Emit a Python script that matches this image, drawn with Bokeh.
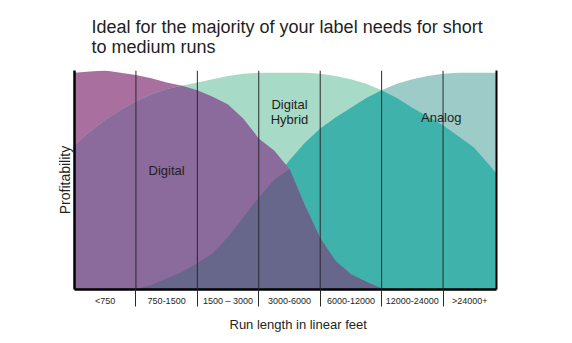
import numpy as np
from bokeh.plotting import figure
from bokeh.models import Range1d, FixedTicker, LinearAxis, Span, Label, Title
from bokeh.embed import file_html
from bokeh.resources import INLINE

# ---- data ----
run_pos = [0, 0.25, 0.5, 0.75, 1.0, 1.25, 1.5, 1.75, 2.0, 2.25, 2.5, 2.75, 3.0, 3.25,
           3.5, 3.75, 4.0, 4.25, 4.5, 4.75, 5.0, 5.25, 5.5, 5.75, 6.0, 6.25, 6.5, 6.75, 6.87]
digital = [0.99, 0.995, 1.0, 0.99, 0.98, 0.965, 0.945, 0.93, 0.91, 0.88, 0.845, 0.78, 0.69, 0.635,
           0.55, 0.385, 0.235, 0.13, 0.07, 0.035, 0.005, 0, 0, 0, 0, 0, 0, 0, 0]
hybrid = [0.66, 0.72, 0.775, 0.82, 0.86, 0.89, 0.915, 0.93, 0.945, 0.96, 0.975, 0.985, 0.99, 0.99,
          0.99, 0.99, 0.985, 0.975, 0.96, 0.94, 0.91, 0.875, 0.83, 0.79, 0.75, 0.70, 0.65, 0.57, 0.53]
analog = [0, 0, 0, 0, 0, 0.02, 0.05, 0.08, 0.12, 0.165, 0.24, 0.33, 0.42, 0.50,
          0.59, 0.67, 0.735, 0.785, 0.83, 0.875, 0.91, 0.94, 0.96, 0.975, 0.985, 0.99, 0.99, 0.99, 0.99]
categories = ["<750", "750-1500", "1500 \u2013 3000", "3000-6000", "6000-12000", "12000-24000", ">24000+"]

x_end = run_pos[-1]
bounds = list(range(1, len(categories)))
edges = [0] + bounds + [x_end]
centers = [(edges[i] + edges[i + 1]) / 2 for i in range(len(categories))]

# ---- colours ----
C_A = "#9ccbc8"      # analog alone
C_P = "#a86f9f"      # digital alone
C_M = "#a8dac8"      # hybrid alone
C_MA = "#3fb2ac"     # hybrid + analog
C_MP = "#8b6a9c"     # hybrid + digital
C_MPA = "#66678b"    # all three
TXT = "#231f20"
FONT = "Liberation Sans"

p = figure(width=572, height=343, x_range=Range1d(0, x_end), y_range=Range1d(0, 1.0),
           min_border_left=74, min_border_right=76, min_border_top=70, min_border_bottom=54,
           toolbar_location=None, output_backend="svg")
p.grid.visible = False
p.outline_line_color = None
p.background_fill_color = "white"
p.border_fill_color = "white"

P = np.array(digital, dtype=float)
M = np.array(hybrid, dtype=float)
A = np.array(analog, dtype=float)
x = np.array(run_pos, dtype=float)
zero = np.zeros_like(x)

p.varea(x=x, y1=zero, y2=A, color=C_A)
p.varea(x=x, y1=zero, y2=P, color=C_P)
p.varea(x=x, y1=zero, y2=M, color=C_M)
p.varea(x=x, y1=zero, y2=np.minimum(M, A), color=C_MA)
p.varea(x=x, y1=zero, y2=np.minimum(M, P), color=C_MP)
p.varea(x=x, y1=zero, y2=np.minimum(np.minimum(M, P), A), color=C_MPA)

for b in bounds:
    p.add_layout(Span(location=b, dimension="height", line_color="#2a2a2a", line_width=1))

# x axis
xa = p.xaxis[0]
xa.ticker = FixedTicker(ticks=centers, minor_ticks=bounds)
xa.major_label_overrides = {c: lab for c, lab in zip(centers, categories)}
xa.major_tick_line_color = None
xa.major_tick_out = 0
xa.major_tick_in = 0
xa.minor_tick_out = 17
xa.minor_tick_in = 0
xa.minor_tick_line_color = "#2a2a2a"
xa.minor_tick_line_width = 1
xa.major_label_standoff = -11
xa.major_label_text_font = FONT
xa.major_label_text_font_size = "9px"
xa.major_label_text_color = TXT
xa.axis_line_color = "black"
xa.axis_line_width = 2.5

# y axis
ya = p.yaxis[0]
ya.ticker = FixedTicker(ticks=[])
ya.axis_line_color = "black"
ya.axis_line_width = 2.5
ya.axis_label = "Profitability"
ya.axis_label_text_font = FONT
ya.axis_label_text_font_size = "14px"
ya.axis_label_text_font_style = "normal"
ya.axis_label_text_color = TXT
ya.axis_label_standoff = 2
ya.major_label_text_font_size = "0px"

# right border
ra = LinearAxis(ticker=FixedTicker(ticks=[]), axis_line_color="black", axis_line_width=2,
                major_label_text_font_size="0px")
p.add_layout(ra, "right")

# title
p.title.text = "Ideal for the majority of your label needs for short\nto medium runs"
p.title.text_font = FONT
p.title.text_font_size = "18px"
p.title.text_font_style = "normal"
p.title.text_color = TXT
p.title.align = "left"
p.title.offset = 17
p.title.standoff = 27

# x axis title
xt = Title(text="Run length in linear feet", align="left", offset=155, standoff=12,
           text_font=FONT, text_font_size="13px", text_font_style="normal", text_color=TXT)
p.add_layout(xt, "below")

# in-chart labels
for txt, lx, ly in [("Digital", 1.5, 0.543), ("Digital", 3.5, 0.845),
                    ("Hybrid", 3.5, 0.776), ("Analog", 5.97, 0.785)]:
    p.add_layout(Label(x=lx, y=ly, text=txt, text_font=FONT, text_font_size="13px",
                       text_color=TXT, text_align="center", text_baseline="middle"))

open("out.html", "w").write(file_html(p, INLINE))
